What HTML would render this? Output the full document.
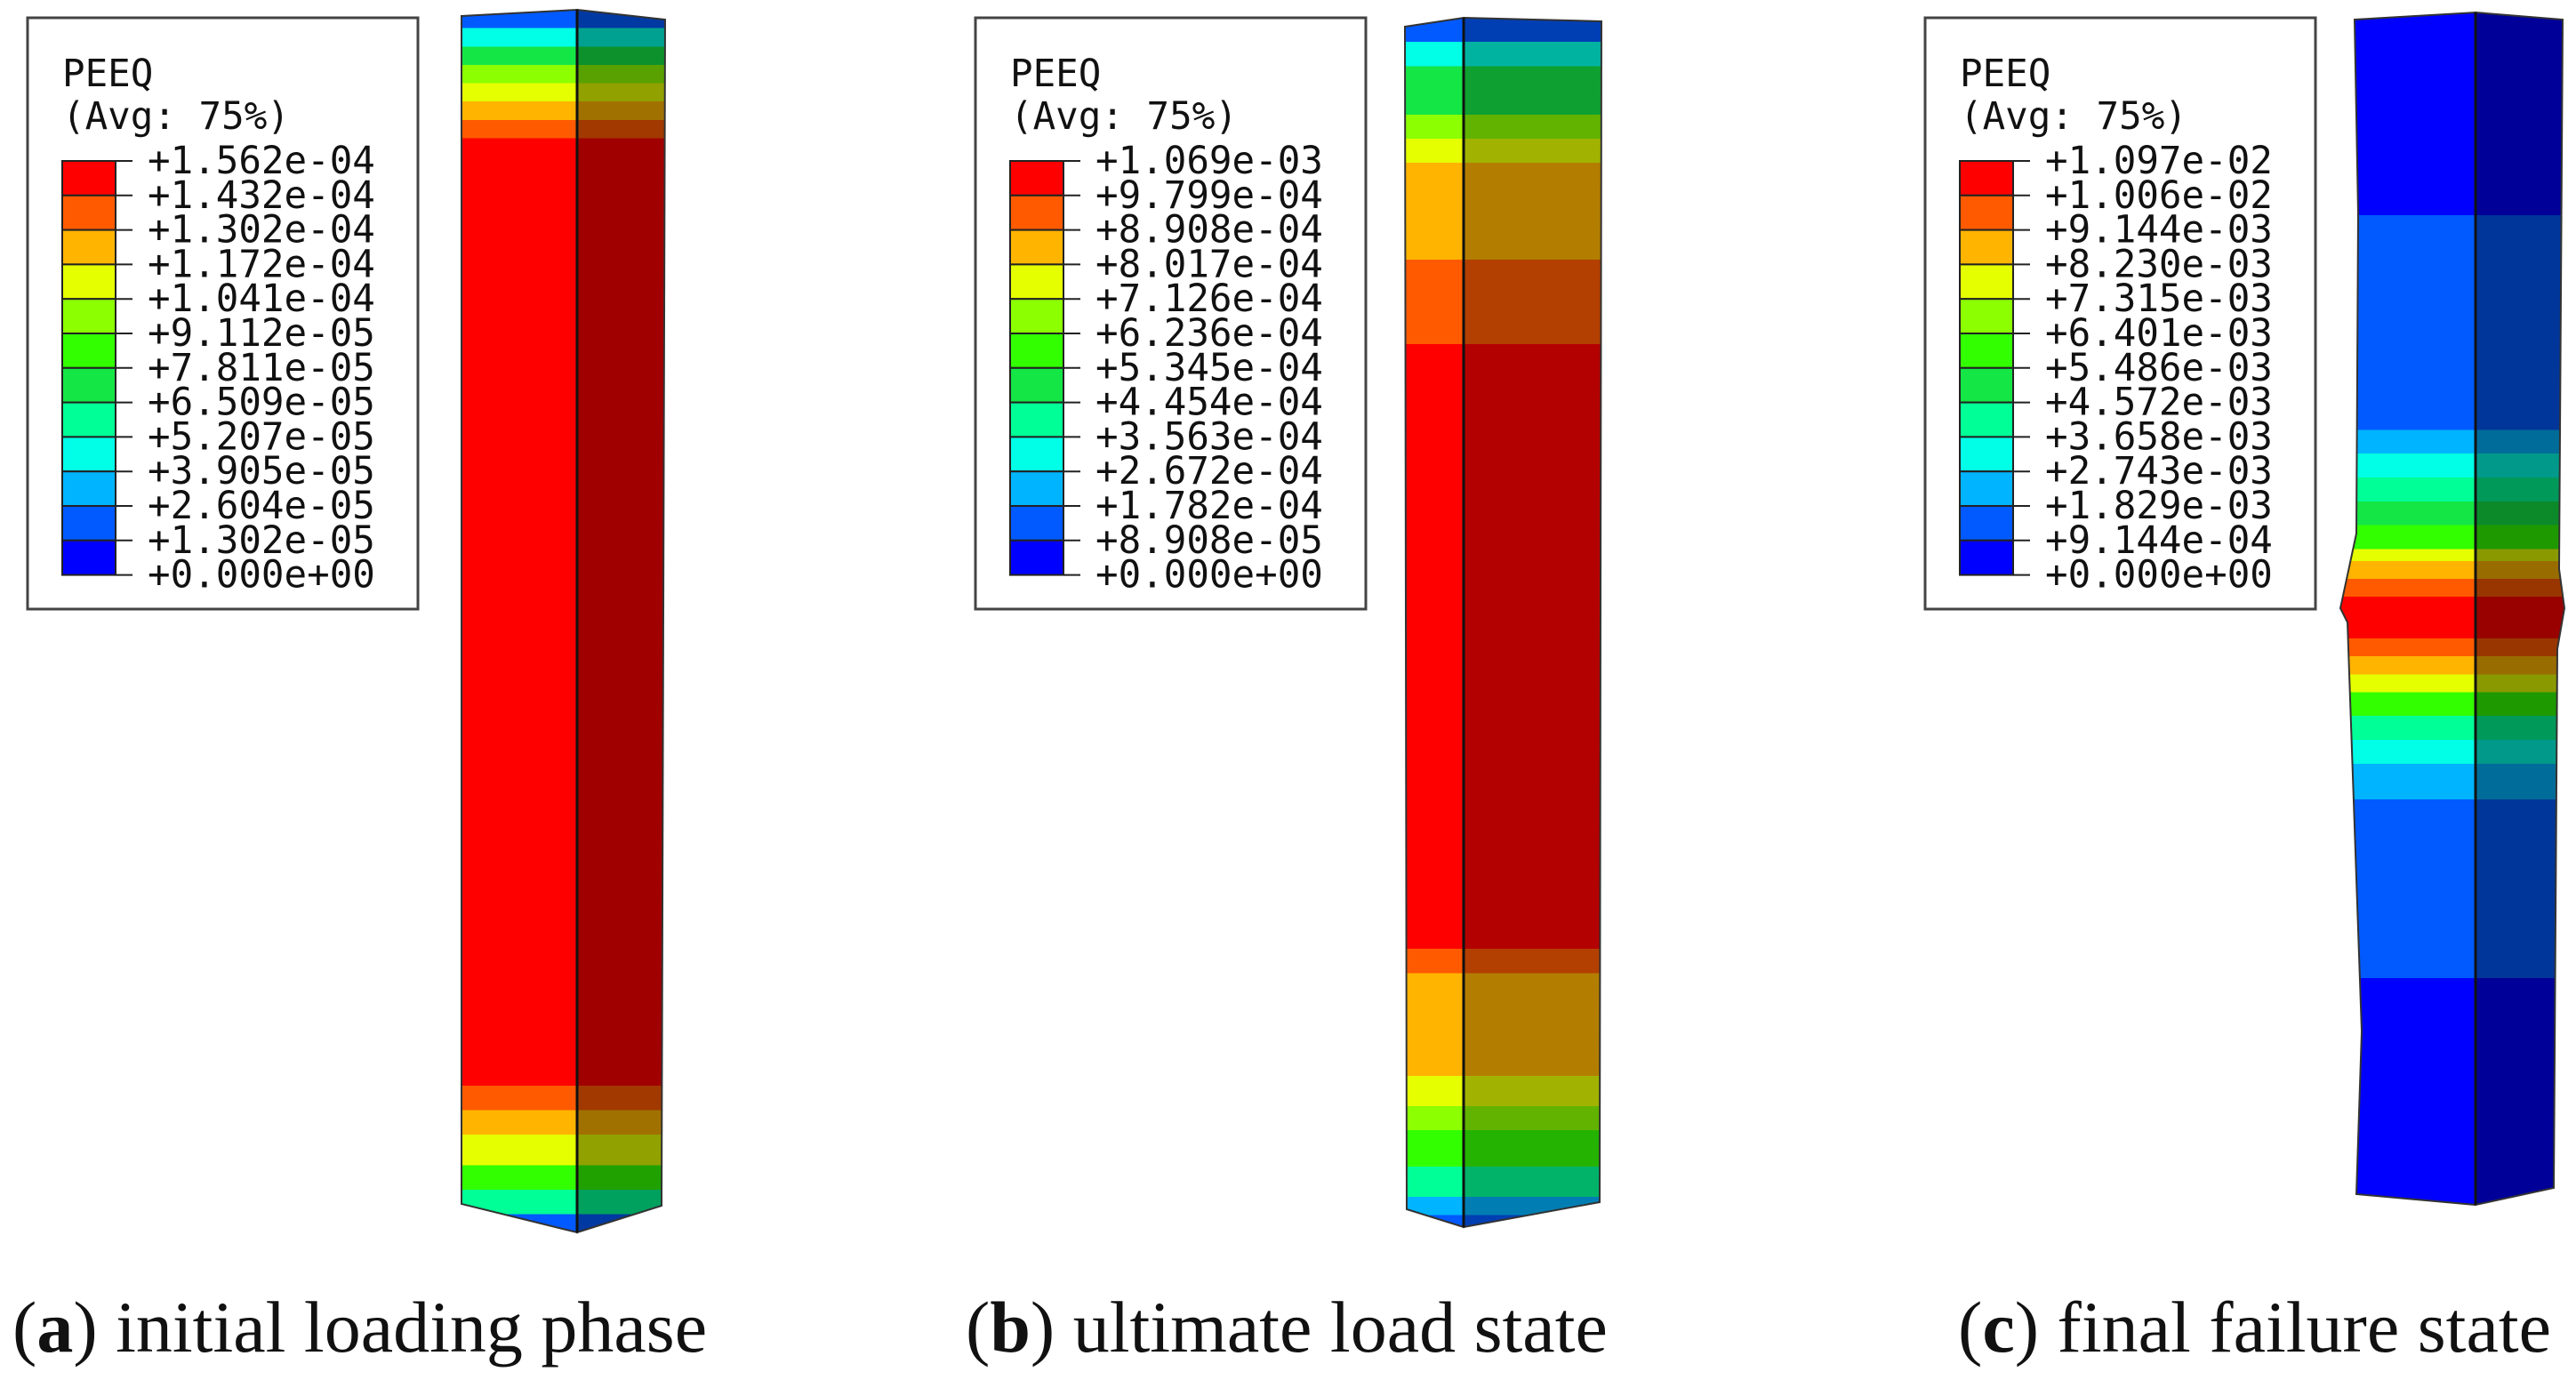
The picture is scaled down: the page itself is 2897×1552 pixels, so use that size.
<!DOCTYPE html>
<html><head><meta charset="utf-8">
<style>
html,body{margin:0;padding:0;background:#fff;}
body{width:2897px;height:1552px;overflow:hidden;position:relative;}
svg{position:absolute;left:0;top:0;}
.lt{font-family:"DejaVu Sans Mono","Liberation Mono",monospace;font-size:42.5px;fill:#111;}
.cap{font-family:"Liberation Serif",serif;font-size:82px;fill:#111;}
</style></head><body>
<svg id="fig" width="2897" height="1552" viewBox="0 0 2897 1552">
<defs id="defs"></defs>
</svg>
<script>
const NS="http://www.w3.org/2000/svg";
const svg=document.getElementById('fig');
const defs=document.getElementById('defs');
const legendColors=['#ff0000','#ff5a00','#ffb400','#e6ff00','#8cff00','#32ff00','#14e646','#00ff96','#00ffe6','#00b4ff','#005aff','#0000ff'];
const labelsA=['+1.562e-04','+1.432e-04','+1.302e-04','+1.172e-04','+1.041e-04','+9.112e-05','+7.811e-05','+6.509e-05','+5.207e-05','+3.905e-05','+2.604e-05','+1.302e-05','+0.000e+00'];
const labelsB=['+1.069e-03','+9.799e-04','+8.908e-04','+8.017e-04','+7.126e-04','+6.236e-04','+5.345e-04','+4.454e-04','+3.563e-04','+2.672e-04','+1.782e-04','+8.908e-05','+0.000e+00'];
const labelsC=['+1.097e-02','+1.006e-02','+9.144e-03','+8.230e-03','+7.315e-03','+6.401e-03','+5.486e-03','+4.572e-03','+3.658e-03','+2.743e-03','+1.829e-03','+9.144e-04','+0.000e+00'];
const legendX=[31,1097,2165];
const captions=[['a',' initial loading phase'],['b',' ultimate load state'],['c',' final failure state']];
const captionX=[14,1086,2202];
const bandsA=[[0,10],[0.015,8],[0.03,6],[0.045,4],[0.06,3],[0.075,2],[0.09,1],[0.105,0],[0.865,0],[0.88,1],[0.9,2],[0.92,3],[0.945,5],[0.965,7],[0.985,10],[1,10]];
const bandsB=[[0,10],[0.02,8],[0.04,6],[0.08,4],[0.1,3],[0.12,2],[0.2,1],[0.27,0],[0.72,0],[0.77,1],[0.79,2],[0.875,3],[0.9,4],[0.92,5],[0.95,7],[0.975,9],[0.99,10],[1,10]];
const bandsC=[[0,11],[0.17,10],[0.35,9],[0.37,8],[0.39,7],[0.41,6],[0.43,5],[0.45,3],[0.46,2],[0.475,1],[0.49,0],[0.51,0],[0.525,1],[0.54,2],[0.555,3],[0.57,5],[0.59,7],[0.61,8],[0.63,9],[0.66,10],[0.8,10],[0.81,11],[1,11]];
function el(t,a,p){const e=document.createElementNS(NS,t);for(const k in a)e.setAttribute(k,a[k]);(p||svg).appendChild(e);return e;}
function dark(hex,f){const n=parseInt(hex.slice(1),16);const r=Math.round((n>>16&255)*f),g=Math.round((n>>8&255)*f),b=Math.round((n&255)*f);return 'rgb('+r+','+g+','+b+')';}
function grad(id,bands,f){const g=el('linearGradient',{id:id,x1:0,y1:0,x2:0,y2:1},defs);
 for(let i=0;i<bands.length;i++){const [t,c]=bands[i];const col=f?dark(legendColors[c],f):legendColors[c];
  el('stop',{offset:t,'stop-color':col},g);
  if(i+1<bands.length){el('stop',{offset:bands[i+1][0],'stop-color':col},g);}}
 return 'url(#'+id+')';}
const labelSets=[labelsA,labelsB,labelsC];
labelSets.forEach((labs,p)=>{
 const x0=legendX[p];
 const g=el('g',{});
 
 
 el('rect',{x:x0,y:20,width:439,height:665,fill:'#fff',stroke:'#444','stroke-width':3},g);
 const t1=el('text',{x:x0+39,y:97,class:'lt'},g);t1.textContent='PEEQ';
 
 
 const t2=el('text',{x:x0+39,y:145,class:'lt'},g);t2.textContent='(Avg: 75%)';
 
 
 const pitch=38.8, y0=181;
 legendColors.forEach((c,i)=>{const r=el('rect',{x:x0+39,y:y0+i*pitch,width:60,height:pitch,fill:c,stroke:'#222','stroke-width':2},g);
  
  });
 labs.forEach((l,i)=>{const y=y0+i*pitch;
  el('line',{x1:x0+99,y1:y,x2:x0+118,y2:y,stroke:'#222','stroke-width':2},g);
  const t=el('text',{x:x0+135,y:y+14,class:'lt'},g);t.textContent=l;
  
  });
});
const cols=[
 {front:'519,18 649,11 649,1386 519,1354',right:'649,11 748,22 744,1356 649,1386',bands:bandsA,f:0.63,edge:[649,11,649,1386]},
 {front:'1580,30 1646,20 1646,1380 1582,1360',right:'1646,20 1801,24 1799,1352 1646,1380',bands:bandsB,f:0.7,edge:[1646,20,1646,1380]},
 {front:'2648,22 2784,14 2784,1355 2650,1343 2656,1160 2640,700 2632,684 2650,600 2652,240',right:'2784,14 2882,22 2878,640 2884,684 2876,730 2872,1336 2784,1355',bands:bandsC,f:0.6,edge:[2784,14,2784,1355]}
];
cols.forEach((c,i)=>{
 const g=el('g',{});
 
 
 const gf=grad('gf'+i,c.bands,0), gr=grad('gr'+i,c.bands,c.f);
 const f=el('polygon',{points:c.front,fill:gf,stroke:'#333','stroke-width':2},g);
 
 
 const r=el('polygon',{points:c.right,fill:gr,stroke:'#333','stroke-width':2},g);
 
 
 el('line',{x1:c.edge[0],y1:c.edge[1],x2:c.edge[2],y2:c.edge[3],stroke:'#111','stroke-width':3},g);
});
captions.forEach((c,i)=>{
 const t=el('text',{x:captionX[i],y:1520,class:'cap'});
 
 
 const a=el('tspan',{},t);a.textContent='(';
 const b=el('tspan',{'font-weight':'bold'},t);b.textContent=c[0];
 const d=el('tspan',{},t);d.textContent=')'+c[1];
});
</script>
</body></html>
